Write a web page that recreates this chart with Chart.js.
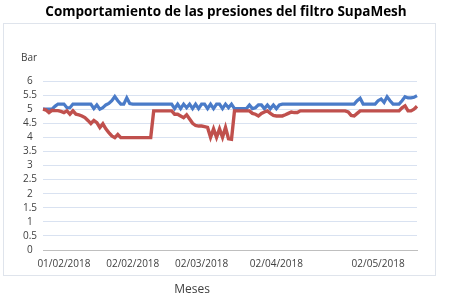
<!DOCTYPE html>
<html>
<head>
<meta charset="utf-8">
<title>Presiones filtro SupaMesh</title>
<script src="https://cdn.jsdelivr.net/npm/chart.js@4.4.1/dist/chart.umd.min.js"></script>
<style>
    html, body { margin: 0; padding: 0; background: #ffffff; }
    #wrap { position: relative; width: 450px; height: 302px; }
</style>
</head>
<body>
<div id="wrap"><canvas id="presionChart" width="450" height="302"></canvas></div>
<script>
// Presiones (bar), una lectura por punto
const presionRoja = [
    5.0, 4.97, 4.88, 4.96, 4.95, 4.95, 4.92, 4.88, 4.94, 4.82,
    4.94, 4.82, 4.8, 4.76, 4.7, 4.6, 4.49, 4.6, 4.52, 4.35,
    4.48, 4.3, 4.17, 4.05, 3.99, 4.1, 3.99, 3.99, 3.99, 3.99,
    3.99, 3.99, 3.99, 3.99, 3.99, 3.99, 3.99, 4.94, 4.94, 4.94,
    4.94, 4.94, 4.94, 4.94, 4.82, 4.82, 4.76, 4.7, 4.8, 4.65,
    4.5, 4.42, 4.4, 4.4, 4.38, 4.35, 4.0, 4.3, 4.0, 4.3,
    4.0, 4.35, 3.95, 3.93, 4.94, 4.94, 4.94, 4.94, 4.94, 4.94,
    4.85, 4.82, 4.76, 4.85, 4.9, 4.94, 4.85, 4.78, 4.76, 4.76,
    4.76, 4.8, 4.85, 4.9, 4.88, 4.88, 4.94, 4.94, 4.94, 4.94,
    4.94, 4.94, 4.94, 4.94, 4.94, 4.94, 4.94, 4.94, 4.94, 4.94,
    4.94, 4.94, 4.9, 4.78, 4.76, 4.85, 4.94, 4.94, 4.94, 4.94,
    4.94, 4.94, 4.94, 4.94, 4.94, 4.94, 4.94, 4.94, 4.94, 4.94,
    5.05, 5.12, 4.94, 4.94, 5.0, 5.1
];

const presionAzul = [
    5.0, 5.0, 5.0, 5.0, 5.1, 5.18, 5.18, 5.18, 5.05, 5.05,
    5.18, 5.18, 5.18, 5.18, 5.18, 5.18, 5.18, 5.02, 5.15, 5.0,
    5.05, 5.15, 5.2, 5.3, 5.45, 5.3, 5.18, 5.18, 5.4, 5.2,
    5.18, 5.18, 5.18, 5.18, 5.18, 5.18, 5.18, 5.18, 5.18, 5.18,
    5.18, 5.18, 5.18, 5.18, 5.02, 5.18, 5.02, 5.18, 5.05, 5.18,
    5.02, 5.18, 5.02, 5.18, 5.18, 5.02, 5.18, 5.02, 5.18, 5.18,
    5.02, 5.18, 5.05, 5.18, 5.02, 5.02, 5.02, 5.02, 5.02, 5.15,
    5.02, 5.05, 5.15, 5.15, 5.02, 5.15, 5.02, 5.15, 5.02, 5.15,
    5.18, 5.18, 5.18, 5.18, 5.18, 5.18, 5.18, 5.18, 5.18, 5.18,
    5.18, 5.18, 5.18, 5.18, 5.18, 5.18, 5.18, 5.18, 5.18, 5.18,
    5.18, 5.18, 5.18, 5.18, 5.18, 5.3, 5.39, 5.18, 5.18, 5.18,
    5.18, 5.18, 5.3, 5.36, 5.24, 5.44, 5.3, 5.18, 5.18, 5.18,
    5.3, 5.44, 5.4, 5.4, 5.42, 5.48
];

// Etiquetas del eje X y el punto donde aparece cada una
const fechas = ['01/02/2018', '02/02/2018', '02/03/2018', '02/04/2018', '02/05/2018'];
const fechaPunto = [7, 30, 53, 78, 112];

// Marcas del eje Y
const yMin = 0;
const yMax = 6;
const yPaso = 0.5;

document.addEventListener("DOMContentLoaded", function() {
    const fuente = "'Open Sans', 'Noto Sans', sans-serif";
    const titulo = 'Comportamiento de las presiones del filtro SupaMesh';

    // Categorias: una por lectura, solo algunas con texto
    const categorias = presionAzul.map(function(_, i) {
        const k = fechaPunto.indexOf(i);
        return k >= 0 ? fechas[k] : '';
    });

    // Marco, titulo centrado en todo el lienzo y textos sueltos ("Bar", "Meses")
    const decoracion = {
        id: 'decoracion',
        beforeDraw(chart) {
            const ctx = chart.ctx;
            ctx.save();
            ctx.strokeStyle = '#dfe4ec';
            ctx.lineWidth = 1;
            ctx.strokeRect(3.5, 23.5, 432, 252);
            ctx.restore();
        },
        afterDraw(chart) {
            const ctx = chart.ctx;
            const area = chart.chartArea;
            ctx.save();
            ctx.textAlign = 'center';
            ctx.textBaseline = 'middle';
            ctx.fillStyle = '#000000';
            ctx.font = 'bold 13.5px ' + fuente;
            ctx.fillText(titulo, 226, 12);
            ctx.fillStyle = '#404040';
            ctx.font = '10px ' + fuente;
            ctx.fillText('Bar', 29, area.top - 23);
            ctx.font = '12px ' + fuente;
            ctx.fillText('Meses', 192, 290);
            ctx.restore();
        }
    };

    const ctx = document.getElementById('presionChart').getContext('2d');
    new Chart(ctx, {
        type: 'line',
        data: {
            labels: categorias,
            datasets: [
                {
                    label: 'Presion 2',
                    data: presionRoja,
                    borderColor: '#c0504d',
                    backgroundColor: '#c0504d',
                    borderWidth: 3.4,
                    pointRadius: 0,
                    tension: 0
                },
                {
                    label: 'Presion 1',
                    data: presionAzul,
                    borderColor: '#4a7bc8',
                    backgroundColor: '#4a7bc8',
                    borderWidth: 3.2,
                    pointRadius: 0,
                    tension: 0
                }
            ]
        },
        options: {
            responsive: false,
            animation: false,
            layout: { padding: { left: 0, right: 33, top: 81, bottom: 0 } },
            plugins: {
                legend: { display: false },
                tooltip: { enabled: false },
                title: { display: false }
            },
            scales: {
                x: {
                    type: 'category',
                    offset: false,
                    grid: { display: false, drawTicks: false },
                    border: { display: true, color: '#bfbfbf', width: 1 },
                    ticks: {
                        autoSkip: false,
                        maxRotation: 0,
                        minRotation: 0,
                        padding: 8,
                        color: '#404040',
                        font: { family: fuente, size: 10 }
                    },
                    afterFit: function(scale) { scale.height = 52; }
                },
                y: {
                    min: yMin,
                    max: yMax,
                    grid: {
                        drawTicks: false,
                        color: function(c) { return c.tick && c.tick.value === 0 ? '#bfbfbf' : '#d9e2f1'; }
                    },
                    border: { display: false },
                    ticks: {
                        stepSize: yPaso,
                        autoSkip: false,
                        crossAlign: 'center',
                        padding: 6,
                        color: '#404040',
                        font: { family: fuente, size: 10 },
                        callback: function(v) { return String(v); }
                    },
                    afterFit: function(scale) { scale.width = 43; }
                }
            }
        },
        plugins: [decoracion]
    });
});
</script>
</body>
</html>
